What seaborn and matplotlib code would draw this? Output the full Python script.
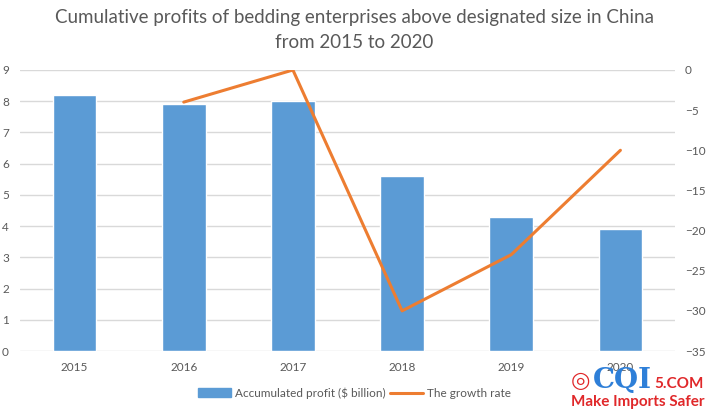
import matplotlib
matplotlib.use('Agg')
import matplotlib.pyplot as plt
from matplotlib.patches import Patch
from matplotlib.lines import Line2D
import numpy as np
import pandas as pd
import seaborn as sns

years = ['2015', '2016', '2017', '2018', '2019', '2020']
profit = [8.2, 7.9, 8.0, 5.6, 4.3, 3.9]
growth_years = ['2016', '2017', '2018', '2019', '2020']
growth = [-4.0, 0.0, -30.0, -23.0, -10.0]

BAR = '#5B9BD5'
LINE = '#ED7D31'
GRID = '#D9D9D9'
TXT = '#595959'

sns.set_style('white')
plt.rcParams['font.family'] = ['Lato', 'DejaVu Sans']

fig = plt.figure(figsize=(7.09, 4.11), dpi=100)
ax = fig.add_axes([20 / 709, 1 - 351 / 411, 655 / 709, 281 / 411])

df = pd.DataFrame({'year': years, 'profit': profit})
sns.barplot(data=df, x='year', y='profit', color=BAR, width=0.4,
            saturation=1, ax=ax, zorder=2)
ax.set_ylim(0, 9)
ax.set_yticks(range(0, 10))
ax.yaxis.grid(True, color=GRID, linewidth=1, zorder=0)
ax.set_axisbelow(True)
ax.set_xlabel('')
ax.set_ylabel('')
ax.tick_params(axis='both', length=0, labelsize=8.5, labelcolor=TXT)
ax.tick_params(axis='y', pad=8)
ax.tick_params(axis='x', pad=8)
for s in ax.spines.values():
    s.set_visible(False)

ax2 = ax.twinx()
gx = [years.index(y) for y in growth_years]
sns.lineplot(x=gx, y=growth, color=LINE, linewidth=2.2, ax=ax2)
ax2.set_ylim(-35, 0)
ax2.set_yticks(range(-35, 1, 5))
ax2.tick_params(axis='y', length=0, labelsize=8.5, labelcolor=TXT, pad=7)
for s in ax2.spines.values():
    s.set_visible(False)
ax.set_xlim(-0.5, 5.5)

fig.text(0.5, 1 - 18 / 411,
         'Cumulative profits of bedding enterprises above designated size in China',
         ha='center', va='center', fontsize=13.5, color=TXT)
fig.text(0.5, 1 - 42 / 411, 'from 2015 to 2020',
         ha='center', va='center', fontsize=13.5, color=TXT)

handles = [Patch(color=BAR, label='Accumulated profit ($ billion)'),
           Line2D([0], [0], color=LINE, linewidth=2.2, label='The growth rate')]
fig.legend(handles=handles, loc='center', bbox_to_anchor=(0.5, 1 - 393 / 411),
           ncol=2, frameon=False, fontsize=8.5, labelcolor=TXT,
           handlelength=2.8, handletextpad=0.4, columnspacing=0.3)

# watermark
fig.text(580 / 709, 1 - 381 / 411, '◎', ha='center', va='center',
         fontsize=16, color='#E0282A', family='DejaVu Sans')
fig.text(622 / 709, 1 - 380 / 411, 'CQI', ha='center', va='center',
         fontsize=20, color='#2E7FD8', fontweight='bold', family='DejaVu Serif')
fig.text(679 / 709, 1 - 384 / 411, '5.COM', ha='center', va='center',
         fontsize=11, color='#E0282A', fontweight='bold')
fig.text(638 / 709, 1 - 402 / 411, 'Make Imports Safer', ha='center', va='center',
         fontsize=11, color='#E0282A', fontweight='bold')

fig.savefig('out.png', dpi=100)
